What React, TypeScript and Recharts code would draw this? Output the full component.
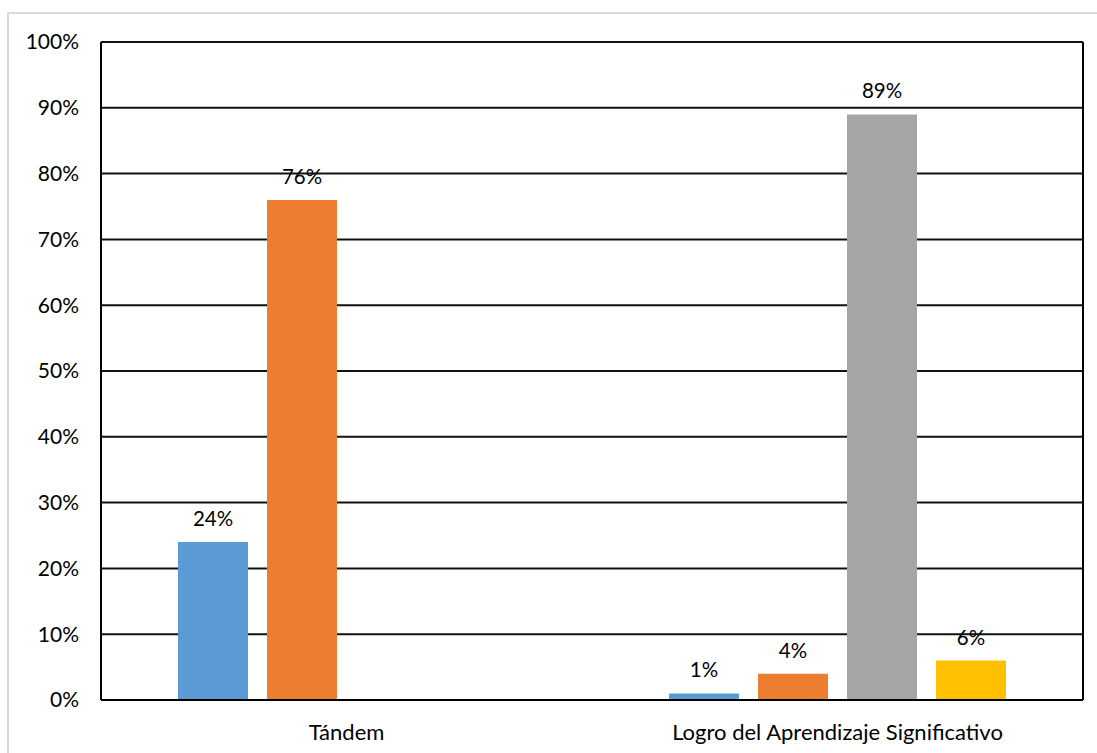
import { Bar, BarChart, CartesianGrid, LabelList, XAxis, YAxis } from 'recharts'

const categories = ['Tándem', 'Logro del Aprendizaje Significativo']
const serie1 = [24, 1]
const serie2 = [76, 4]
const serie3 = [null, 89]
const serie4 = [null, 6]
const yTicks = [0, 10, 20, 30, 40, 50, 60, 70, 80, 90, 100]

const data = categories.map((name, i) => ({
  name,
  s1: serie1[i],
  s2: serie2[i],
  s3: serie3[i],
  s4: serie4[i]
}))

const FONT = 'Lato, "Open Sans", sans-serif'
const X_TICK = { fill: '#000', fontSize: 22, fontFamily: FONT }
const Y_TICK = { fill: '#000', fontSize: 21, fontFamily: FONT }
const LABEL_STYLE = { fill: '#000', fontSize: 20.5, fontFamily: FONT }
const pct = (v: unknown) => (v == null ? '' : `${v}%`)

const SERIES = [
  { key: 's1', color: '#5B9BD5' },
  { key: 's2', color: '#ED7D31' },
  { key: 's3', color: '#A5A5A5' },
  { key: 's4', color: '#FFC000' }
]

export default function App() {
  return (
    <div style={{ position: 'absolute', left: 0, top: 0, width: 1097, height: 753, background: '#fff' }}>
      <div
        style={{
          position: 'absolute',
          left: 7,
          top: 12,
          width: 1200,
          height: 900,
          border: '2px solid #d9d9d9'
        }}
      />
      <div style={{ position: 'absolute', left: 0, top: 0 }}>
        <BarChart
          width={1097}
          height={753}
          data={data}
          margin={{ top: 42, right: 13, bottom: 23, left: 21 }}
          barSize={70}
          barGap={19}
        >
          <CartesianGrid horizontal vertical={false} stroke="#111" strokeWidth={2} />
          <XAxis
            dataKey="name"
            tick={X_TICK}
            tickLine={false}
            tickSize={0}
            tickMargin={24}
            axisLine={{ stroke: '#000', strokeWidth: 2 }}
          />
          <YAxis
            width={80}
            domain={[0, 100]}
            ticks={yTicks}
            interval={0}
            tickFormatter={pct}
            tick={Y_TICK}
            tickLine={false}
            tickSize={0}
            tickMargin={22}
            axisLine={{ stroke: '#000', strokeWidth: 2 }}
          />
          <YAxis
            yAxisId="r"
            orientation="right"
            width={1}
            domain={[0, 100]}
            tick={false}
            tickLine={false}
            axisLine={{ stroke: '#000', strokeWidth: 2 }}
          />
          {SERIES.map((s) => (
            <Bar key={s.key} dataKey={s.key} fill={s.color} isAnimationActive={false}>
              <LabelList dataKey={s.key} position="top" offset={16} formatter={pct} style={LABEL_STYLE} />
            </Bar>
          ))}
        </BarChart>
      </div>
    </div>
  )
}
